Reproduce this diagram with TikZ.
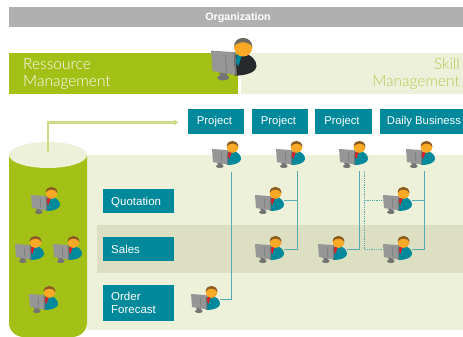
\documentclass[tikz,border=0pt]{standalone}
\usepackage{fontspec}
\setmainfont{Liberation Sans}
\newfontfamily\lightf[UprightFont=* Light]{Lato}
\usetikzlibrary{arrows.meta}
\definecolor{teal}{HTML}{00899B}
\definecolor{limeg}{HTML}{A2C016}
\definecolor{paleg}{HTML}{EDF1DA}
\definecolor{bandg}{HTML}{DDDFC3}
\definecolor{barg}{HTML}{B0B0B0}
\definecolor{skillg}{HTML}{B2C955}
\definecolor{arrowg}{HTML}{CFDC85}
\definecolor{linkc}{HTML}{55ABB2}
\definecolor{monc}{HTML}{969696}
\definecolor{mond}{HTML}{747474}
\definecolor{skin}{HTML}{F9A925}
\definecolor{hairb}{HTML}{8A5A24}
\definecolor{darkb}{HTML}{262A2C}
\definecolor{hairg}{HTML}{6B6B60}
\definecolor{tier}{HTML}{D8222A}
\tikzset{
  topbox/.style={fill=teal,text=white,minimum height=24.5pt,inner sep=0pt,text height=9pt,text depth=3pt,font=\fontsize{11.3}{13}\selectfont},
  sidebox/.style={fill=teal,anchor=west,minimum width=71pt,inner sep=0pt},
  sidetext/.style={anchor=west,text=white,inner sep=0pt,align=left,font=\fontsize{11.5}{13}\selectfont},
  link/.style={draw=linkc,line width=0.9pt},
  dotlink/.style={draw=linkc,line width=0.9pt,dash pattern=on 1pt off 0.8pt},
  headline/.style={inner sep=0pt,font=\lightf\fontsize{15.5}{17}\selectfont},
  person/.style={inner sep=0pt,minimum width=29pt,minimum height=27pt,anchor=north west},
  pics/worker/.style n args={3}{code={
    \fill[#1] (13.5,17) .. controls (14,11) and (18,9.5) .. (20,9) .. controls (26,11) and (29,14) .. (29,18)
       .. controls (29,21) and (24,24) .. (15,24) -- cycle;
    \fill[#2] (17,10) -- (20.5,9.5) -- (19,13) -- (17.5,18) -- (15.5,15) -- cycle;
    \fill[skin] (20.5,6) circle[radius=5.8];
    \fill[#3] (14.7,5.5) .. controls (14.7,-2) and (26.4,-2) .. (26.4,6) .. controls (25.5,3.5) and (23,3) .. (20.5,2.6) .. controls (18,3) and (15.5,3.5) .. (14.7,5.5) -- cycle;
    \fill[mond] (5,22) -- (10,22) -- (10.5,24) .. controls (13,25) and (11,27) .. (8,27) .. controls (3,27) and (3,24) .. (6,24) -- cycle;
    \fill[monc] (0,8) -- (14.5,9) -- (15.5,23.5) -- (1,21) -- cycle;
    \draw[mond,line width=0.5pt] (9,11) -- (10,21);
    \fill[mond] (14.5,9) -- (15.7,9.2) -- (16.5,24) -- (15.5,23.5) -- cycle;
  }}
}
% name, monitor left, monitor top
\newcommand{\worker}[3]{%
  \node[person] (#1) at (#2,#3-8) {};
  \pic at (#2,#3-8) {worker={teal}{tier}{hairb}};
}
\begin{document}
\begin{tikzpicture}[x=1pt,y=-1pt]
\useasboundingbox (0,0) rectangle (463,337);
% header
\fill[barg] (9,7) rectangle (463,27);
\node[text=white,inner sep=0pt,font=\fontsize{10.7}{12}\selectfont\bfseries] (org) at (238,18) {Organization};
\fill[limeg] (9,53) rectangle (238,94);
\fill[paleg] (241,53) rectangle (463,94);
\node[headline,text=white,anchor=west,align=left] (res) at (23,74) {Ressource\\Management};
\node[headline,text=skillg,anchor=east,align=right] (skill) at (460,74) {Skill\\Management};
% background bands
\fill[paleg] (87,155) rectangle (463,330);
\fill[bandg] (97,225) rectangle (463,272.5);
% cylinder
\fill[limeg] (9,155) -- (87,155) -- (87,323) .. controls (87,331) and (80,337) .. (72,337) -- (24,337) .. controls (16,337) and (9,331) .. (9,323) -- cycle;
\fill[paleg] (48,155) ellipse[x radius=39,y radius=13];
% project boxes
\node[topbox,minimum width=56pt] (p1) at (216,121.7) {\kern-3pt Project};
\node[topbox,minimum width=56pt] (p2) at (280,121.7) {\kern-3pt Project};
\node[topbox,minimum width=57pt] (p3) at (343.5,121.7) {\kern-3pt Project};
\node[topbox,minimum width=83pt] (p4) at (421.5,121.7) {\kern5pt Daily Business};
% side boxes
\node[sidebox,minimum height=24.5pt] (q) at (103,201.2) {};
\node[sidetext] (qt) at (111,202) {Quotation};
\node[sidebox,minimum height=24.5pt] (s) at (103,249.2) {};
\node[sidetext] (st) at (111,249) {Sales};
\node[sidebox,minimum height=36.5pt] (o) at (103,303.2) {};
\node[sidetext] (ot) at (111,303) {Order\\Forecast};
% arrow
\coordinate (cyltop) at (48,152);
\coordinate (arrowend) at (178,122.5);
\draw[arrowg,line width=2.2pt,-{Triangle[length=4pt,width=6pt]}] (cyltop) |- (arrowend);
% people (nodes first, connectors under the icons)
\node[person] (nOF) at (191,286) {};
\node[person] (nQ1) at (255,187) {};
\node[person] (nQ2) at (383,187) {};
\node[person] (nS1) at (255,236) {};
\node[person] (nS2) at (318,236) {};
\node[person] (nS3) at (383,236) {};
\coordinate (l1t) at (231.5,172);
\coordinate (l2t) at (297.3,171);
\coordinate (l3t) at (359.3,171);
\coordinate (l5t) at (364.7,171);
\coordinate (l4t) at (424.3,171);
\draw[link] (l1t) |- (nOF.east);
\draw[link] (l2t) |- (nS1.east);
\draw[link] (nQ1.east) -- (nQ1.east -| l2t);
\draw[link] (l3t) |- (nS2.east);
\draw[link] (l4t) |- (nS3.east);
\draw[link] (nQ2.east) -- (nQ2.east -| l4t);
\draw[dotlink] (l5t) |- (nS3.west);
\draw[dotlink] (nQ2.west -| l5t) -- (nQ2.west);
% icons
\worker{wT1}{212}{149}
\worker{wT2}{276}{149}
\worker{wT3}{339}{149}
\worker{wT4}{406}{149}
\worker{wQ1}{255}{195}
\worker{wQ2}{383}{195}
\worker{wS1}{255}{244}
\worker{wS2}{318}{244}
\worker{wS3}{383}{244}
\worker{wOF}{191}{294}
\worker{wC1}{31}{195}
\worker{wC2}{15}{244}
\worker{wC3}{53}{244}
\worker{wC4}{29}{294}
\node[person,minimum width=46pt,minimum height=42pt] (boss) at (211,38) {};
\pic[scale=1.57] at (211,38) {worker={darkb}{teal}{hairg}};
\end{tikzpicture}
\end{document}
